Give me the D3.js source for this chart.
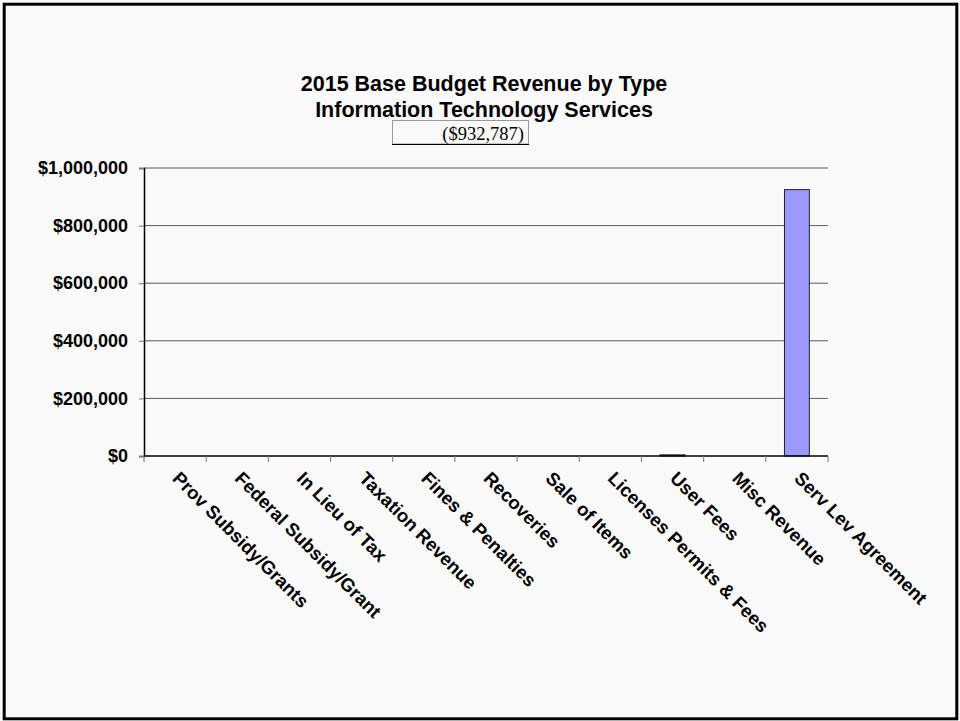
<!DOCTYPE html>
<html>
<head>
<meta charset="utf-8">
<script src="https://cdn.jsdelivr.net/npm/d3@7"></script>
<style>
  html, body { margin: 0; padding: 0; background: #ffffff; }
  svg { display: block; }
</style>
</head>
<body>
<script>
// Revenue categories and amounts for the 2015 base budget
const categories = [
  "Prov Subsidy/Grants", "Federal Subsidy/Grant", "In Lieu of Tax",
  "Taxation Revenue", "Fines & Penalties", "Recoveries", "Sale of Items",
  "Licenses Permits & Fees", "User Fees", "Misc Revenue", "Serv Lev Agreement"
];
const revenue = [0, 0, 0, 0, 0, 0, 0, 0, 4000, 0, 925000];
const yTicks = [0, 200000, 400000, 600000, 800000, 1000000];
const titleLines = ["2015 Base Budget Revenue by Type", "Information Technology Services"];
const totalLabel = "($932,787)";

const W = 960, H = 721;
const plot = { left: 144, right: 828, top: 168, bottom: 456 };
const sans = "Liberation Sans, Arial, Helvetica, sans-serif";

const svg = d3.select("body").append("svg")
  .attr("width", W).attr("height", H);

// page background and frame
svg.append("rect").attr("x", 0).attr("y", 0).attr("width", W).attr("height", H)
  .attr("fill", "#fafafa");
svg.append("rect").attr("x", 4.2).attr("y", 4.2).attr("width", 952.6).attr("height", 714.6)
  .attr("fill", "none").attr("stroke", "#000").attr("stroke-width", 3);

const x = d3.scaleBand().domain(categories)
  .range([plot.left, plot.right]).paddingInner(0.6).paddingOuter(0.3);
const y = d3.scaleLinear().domain([0, 1000000]).range([plot.bottom, plot.top]);

// horizontal gridlines
svg.append("g").selectAll("line").data(yTicks.filter(d => d > 0)).join("line")
  .attr("x1", plot.left).attr("x2", plot.right)
  .attr("y1", d => y(d)).attr("y2", d => y(d))
  .attr("stroke", "#5a5a5a").attr("stroke-width", 1);

// y axis
const yAxis = svg.append("g")
  .attr("transform", `translate(${plot.left},0)`)
  .call(d3.axisLeft(y).tickValues(yTicks).tickSize(5).tickPadding(11)
    .tickFormat(d => "$" + d3.format(",")(d)));
yAxis.select(".domain").attr("stroke", "#000").attr("stroke-width", 1.5);
yAxis.selectAll(".tick line").attr("stroke", "#777");
yAxis.selectAll(".tick text")
  .attr("font-family", sans)
  .attr("font-weight", "bold").attr("font-size", 18).attr("fill", "#000");

// bars
svg.append("g").selectAll("rect").data(categories).join("rect")
  .attr("x", d => x(d))
  .attr("width", x.bandwidth())
  .attr("y", (d, i) => y(revenue[i]))
  .attr("height", (d, i) => plot.bottom - y(revenue[i]))
  .attr("fill", "#9999ff")
  .attr("stroke", (d, i) => revenue[i] > 0 ? "#222" : "none")
  .attr("stroke-width", 1);

// x axis with band boundary ticks
const xg = svg.append("g");
const step = (plot.right - plot.left) / categories.length;
xg.append("line")
  .attr("x1", plot.left).attr("x2", plot.right)
  .attr("y1", plot.bottom).attr("y2", plot.bottom)
  .attr("stroke", "#000").attr("stroke-width", 1.5);
xg.selectAll("line.tick").data(d3.range(categories.length + 1)).join("line")
  .attr("class", "tick")
  .attr("x1", i => plot.left + i * step).attr("x2", i => plot.left + i * step)
  .attr("y1", plot.bottom).attr("y2", plot.bottom + 6)
  .attr("stroke", "#777");
xg.selectAll("text").data(categories).join("text")
  .attr("transform", d => `translate(${x(d) + x.bandwidth() / 2 + 1},${plot.bottom + 19}) rotate(45)`)
  .attr("dy", "0.35em")
  .attr("text-anchor", "start")
  .attr("font-family", sans)
  .attr("font-weight", "bold").attr("font-size", 18.5).attr("fill", "#000")
  .text(d => d);

// titles
svg.append("g").selectAll("text").data(titleLines).join("text")
  .attr("x", 484).attr("y", (d, i) => 91 + i * 26)
  .attr("text-anchor", "middle")
  .attr("font-family", sans)
  .attr("font-weight", "bold").attr("font-size", 21.5).attr("fill", "#000")
  .text(d => d);

// total box
const box = svg.append("g");
box.append("rect").attr("x", 392.5).attr("y", 120.5).attr("width", 136).attr("height", 23.5)
  .attr("fill", "none").attr("stroke", "#999").attr("stroke-width", 1);
box.append("line").attr("x1", 392).attr("x2", 529).attr("y1", 144.5).attr("y2", 144.5)
  .attr("stroke", "#000").attr("stroke-width", 1);
box.append("text").attr("x", 524).attr("y", 140)
  .attr("text-anchor", "end")
  .attr("font-family", "Liberation Serif, Times New Roman, serif")
  .attr("font-size", 18.5).attr("fill", "#000")
  .text(totalLabel);
</script>
</body>
</html>
